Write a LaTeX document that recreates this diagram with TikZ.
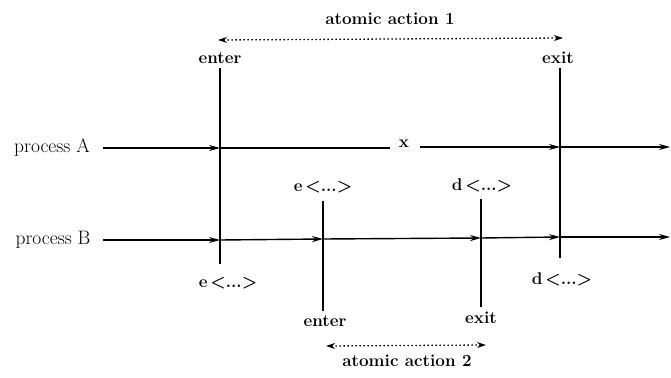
\documentclass[tikz,border=0pt]{standalone}
\usetikzlibrary{arrows.meta}
\begin{document}
\begin{tikzpicture}[x=1pt,y=-1pt,
  txt/.style={font=\fontsize{19.5}{22}\selectfont, inner sep=1pt},
  btxt/.style={font=\fontsize{17}{20}\selectfont\bfseries\boldmath, inner sep=1pt},
  flow/.style={line width=1.4pt, -{Stealth[length=11pt,width=6pt]}},
  bar/.style={line width=1.4pt},
  span/.style={line width=1.3pt, dash pattern=on 1.3pt off 2.7pt, {Stealth[length=9pt,width=6pt]}-{Stealth[length=9pt,width=6pt]}}]
\useasboundingbox (0,0) rectangle (671,377);
% labels
\node[txt] (pA) at (52,148) {process A};
\node[txt] (pB) at (53,240) {process B};
\node[btxt] (aa1) at (390,19) {atomic action 1};
\node[btxt] (en1) at (220,58) {enter};
\node[btxt] (ex1) at (558,58) {exit};
\node[btxt] (eT) at (323,187) {e\,$<$...$>$};
\node[btxt] (dT) at (482,185) {d\,$<$...$>$};
\node[btxt] (eB) at (228,283) {e\,$<$...$>$};
\node[btxt] (dB) at (562,279) {d\,$<$...$>$};
\node[btxt] (en2) at (325,321) {enter};
\node[btxt] (ex2) at (481,318) {exit};
\node[btxt] (aa2) at (407,361) {atomic action 2};
\node[btxt] (xl) at (404,144) {x};
% coordinates
\coordinate (aS) at (103,148);
\coordinate (a1) at (220,148);
\coordinate (a2) at (560,147);
\coordinate (aE) at (670,147);
\coordinate (bS) at (103,240);
\coordinate (b1) at (220,240);
\coordinate (b2) at (323,239);
\coordinate (b3) at (481,238);
\coordinate (b4) at (560,237);
\coordinate (bE) at (670,237);
\coordinate (v1t) at (220,68);
\coordinate (v1b) at (220,264);
\coordinate (v4t) at (560,68);
\coordinate (v4b) at (560,258);
\coordinate (v2t) at (323,201);
\coordinate (v2b) at (323,311);
\coordinate (v3t) at (481,199);
\coordinate (v3b) at (481,307);
\coordinate (s1a) at (218,40);
\coordinate (s1b) at (563,38);
\coordinate (s2a) at (326,346);
\coordinate (s2b) at (486,345);
\coordinate (xa) at (390,148);
\coordinate (xb) at (420,147);
% verticals
\draw[bar] (v1t) -- (v1b);
\draw[bar] (v4t) -- (v4b);
\draw[bar] (v2t) -- (v2b);
\draw[bar] (v3t) -- (v3b);
% process A
\draw[flow] (aS) -- (a1);
\draw[bar] (a1) -- (xa);
\draw[flow] (xb) -- (a2);
\draw[flow] (a2) -- (aE);
% process B
\draw[flow] (bS) -- (b1);
\draw[flow] (b1) -- (b2);
\draw[flow] (b2) -- (b3);
\draw[flow] (b3) -- (b4);
\draw[flow] (b4) -- (bE);
% spans
\draw[span] (s1a) -- (s1b);
\draw[span] (s2a) -- (s2b);
\end{tikzpicture}
\end{document}
